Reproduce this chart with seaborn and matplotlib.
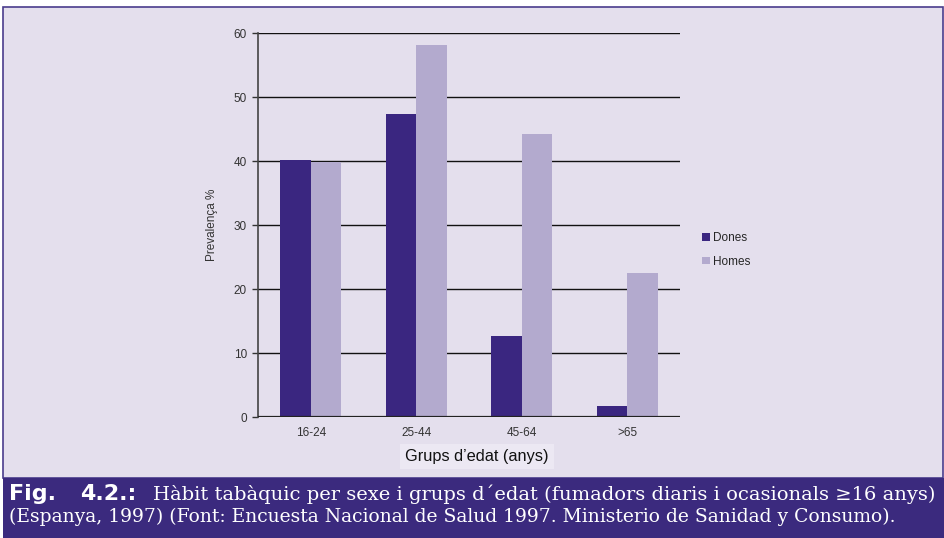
import matplotlib
matplotlib.use("Agg")
import matplotlib.pyplot as plt
from matplotlib.patches import Rectangle
import seaborn as sns
import pandas as pd

# Smoking prevalence by sex and age group (Spain, 1997)
age_groups = ["16-24", "25-44", "45-64", ">65"]
dones = [40.2, 47.3, 12.7, 1.7]
homes = [39.8, 58.1, 44.2, 22.5]
series_names = ["Dones", "Homes"]
y_ticks = [0, 10, 20, 30, 40, 50, 60]

bg = "#e4dfed"
dark = "#3a2680"
light = "#b3aace"
caption_bg = "#3b2a7e"

df = pd.DataFrame({
    "Grup": age_groups * 2,
    "Sexe": [series_names[0]] * len(age_groups) + [series_names[1]] * len(age_groups),
    "Prevalença": dones + homes,
})

sns.set_theme(style="white")
plt.rcParams["font.family"] = ["Liberation Sans", "DejaVu Sans"]

fig = plt.figure(figsize=(9.44, 5.38), dpi=100)
fig.patch.set_facecolor("white")

# panel background with thin border, and caption strip (behind the axes)
fig.patches.append(Rectangle((3 / 944, 60 / 538), 940 / 944, 471 / 538,
                             transform=fig.transFigure, facecolor=bg,
                             edgecolor="#4a3c8c", linewidth=1.2, zorder=-2))
fig.patches.append(Rectangle((3 / 944, 0), 941 / 944, 60 / 538,
                             transform=fig.transFigure, facecolor=caption_bg,
                             edgecolor="none", zorder=-1))

ax = fig.add_axes([258 / 944, 121 / 538, 422 / 944, 384 / 538])
ax.set_facecolor(bg)

sns.barplot(data=df, x="Grup", y="Prevalença", hue="Sexe",
            palette=[dark, light], width=0.575, gap=0, saturation=1,
            edgecolor="none", linewidth=0, ax=ax, zorder=3)

ax.set_ylim(0, 60)
ax.set_xlim(-0.5, 3.5)
ax.set_yticks(y_ticks)
ax.set_yticklabels([str(v) for v in y_ticks], fontsize=8.5, color="#333333")
ax.tick_params(axis="y", length=4, width=1, color="#333333", pad=4, left=True)
ax.tick_params(axis="x", length=0, labelsize=8.5, labelcolor="#333333", pad=7)
for v in y_ticks[1:]:
    ax.axhline(v, color="#111111", linewidth=1.0, zorder=1)
ax.axhline(0, color="#222222", linewidth=1.6, zorder=4)

for side in ["top", "right", "bottom"]:
    ax.spines[side].set_visible(False)
ax.spines["left"].set_color("#444444")
ax.spines["left"].set_linewidth(1.2)

ax.set_ylabel("Prevalença %", fontsize=8.5, color="#333333")
ax.yaxis.set_label_coords(-40 / 422, 0.5)
ax.set_xlabel("Grups d’edat (anys)", fontsize=11.8, color="#111111",
              bbox=dict(boxstyle="square,pad=0.3", facecolor="#ece8f3", edgecolor="none"))
ax.xaxis.set_label_coords(219 / 422, -32 / 384)

handles, labels = ax.get_legend_handles_labels()
ax.legend(handles, labels, loc="center left", bbox_to_anchor=(1.042, 0.435),
          frameon=False, fontsize=8.5, handlelength=0.6, handleheight=0.6,
          handletextpad=0.3, labelspacing=0.95, borderaxespad=0)

# caption
serif = ["DejaVu Serif"]
fig.text(9 / 944, 1 - 500 / 538, "Fig.", fontsize=16, fontweight="heavy",
         color="white", family="DejaVu Sans", va="baseline", ha="left")
fig.text(80 / 944, 1 - 500 / 538, "4.2.:", fontsize=16, fontweight="heavy",
         color="white", family="DejaVu Sans", va="baseline", ha="left")
fig.text(153 / 944, 1 - 500 / 538,
         "Hàbit tabàquic per sexe i grups d´edat (fumadors diaris i ocasionals ≥16 anys)",
         fontsize=14, color="white", family=serif, va="baseline", ha="left")
fig.text(9 / 944, 1 - 522 / 538,
         "(Espanya, 1997) (Font: Encuesta Nacional de Salud 1997. Ministerio de Sanidad y Consumo).",
         fontsize=13.5, color="white", family=serif, va="baseline", ha="left")

fig.savefig("out.png", dpi=100, facecolor=fig.get_facecolor())
